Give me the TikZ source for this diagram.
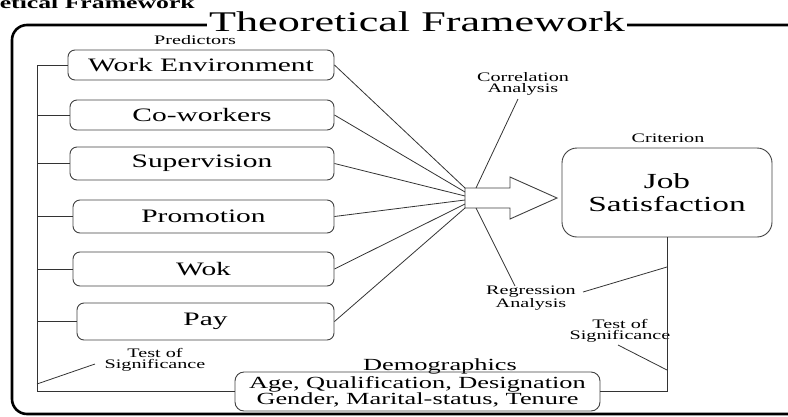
\documentclass[tikz,border=0pt]{standalone}
\usepackage{fontspec}
\setmainfont{Liberation Serif}[FakeStretch=1.55]
\usetikzlibrary{calc}
\newcommand\fsz[2]{\fontsize{#1}{#2}\selectfont}
\colorlet{linec}{black!80}
\colorlet{boxc}{black!75}
\tikzset{
  frame/.style={line width=2.6pt, rounded corners=15pt},
  pbox/.style={draw=boxc, line width=0.9pt, rounded corners=7pt, inner sep=0pt, font=\fsz{19}{22}},
  jbox/.style={draw=boxc, line width=0.9pt, rounded corners=15pt, inner sep=0pt, align=center, font=\fsz{21.5}{23}},
  dbox/.style={draw=boxc, line width=0.9pt, rounded corners=9pt, inner sep=0pt, align=center, font=\fsz{17}{16}},
  lab/.style={font=\fsz{13}{11.5}, align=center, inner sep=0pt},
  conn/.style={draw=linec, line width=0.8pt},
  arrowshape/.style={draw=boxc, line width=0.9pt, fill=white},
}
\begin{document}
\begin{tikzpicture}[x=1pt,y=-1pt]
\useasboundingbox (0,0) rectangle (788,416);
% outer frame
\draw[frame] (12,25) rectangle (805,414);
\node[fill=white, inner xsep=2pt, inner ysep=0pt, anchor=base, font=\fsz{28.5}{30}] (title) at (417,31) {Theoretical Framework};
\node[anchor=base east, inner sep=0pt, font=\fsz{16.6}{18}\bfseries] (head) at (195,8) {etical Framework};
% predictors
\node[lab] (pred) at (195,40) {Predictors};
\node[pbox, minimum width=266pt, minimum height=30pt] (we) at (201,65) {Work Environment};
\node[pbox, minimum width=264pt, minimum height=30pt] (cw) at (202,115) {Co-workers};
\node[pbox, minimum width=264pt, minimum height=33pt] (su) at (202,163.5) {Supervision};
\node[pbox, minimum width=261pt, minimum height=33pt] (pr) at (203.5,216.5) {Promotion};
\node[pbox, minimum width=261pt, minimum height=34pt] (wo) at (203.5,269) {Wok};
\node[pbox, minimum width=257pt, minimum height=37pt] (pa) at (205.5,321.5) {Pay};
% criterion
\node[lab] (crit) at (668,138) {Criterion};
\node[jbox, minimum width=210pt, minimum height=89pt] (job) at (667,192.5) {Job\\Satisfaction};
% demographics
\node[anchor=base, inner sep=0pt, font=\fsz{17}{18}] (demlab) at (440,370) {Demographics};
\node[dbox, minimum width=365pt, minimum height=39pt] (demo) at (417.5,391.5) {Age, Qualification, Designation\\Gender, Marital-status, Tenure};
% arrow
\draw[arrowshape] (465,188) -- (510,188) -- (510,177) -- (557,198) -- (510,219) -- (510,208) -- (465,208) -- cycle;
\coordinate (h1) at (465,188);
\coordinate (h2) at (465,192);
\coordinate (h3) at (465,196);
\coordinate (h4) at (465,200);
\coordinate (h5) at (465,204);
\coordinate (h6) at (465,208);
\coordinate (ctop) at (476,188);
\coordinate (cbot) at (476,208);
% labels of analyses
\node[lab] (corr) at (523,84) {Correlation\\Analysis};
\node[lab] (reg) at (531,298) {Regression\\Analysis};
\node[lab] (tsr) at (620,331) {Test of\\Significance};
\node[lab] (tsl) at (155,360) {Test of\\Significance};
\coordinate (corrEnd) at (518,99);
\coordinate (regEnd) at (515,286);
\coordinate (regEnd2) at (583,292);
\coordinate (tsrEnd) at (618,345);
\coordinate (tslEnd) at (95,364);
% left bus
\coordinate (busTop) at (37,65);
\coordinate (busBot) at (37,391.5);
\draw[conn] (busTop) -- (busBot);
\draw[conn] (we.west -| busTop) -- (we.west);
\draw[conn] (cw.west -| busTop) -- (cw.west);
\draw[conn] (su.west -| busTop) -- (su.west);
\draw[conn] (pr.west -| busTop) -- (pr.west);
\draw[conn] (wo.west -| busTop) -- (wo.west);
\draw[conn] (pa.west -| busTop) -- (pa.west);
\draw[conn] (busBot) -- (demo.west);
\coordinate (tslStart) at (37,384);
\draw[conn] (tslStart) -- (tslEnd);
% predictors to arrow
\draw[conn] (we.east) -- (h1);
\draw[conn] (cw.east) -- (h2);
\draw[conn] (su.east) -- (h3);
\draw[conn] (pr.east) -- (h4);
\draw[conn] (wo.east) -- (h5);
\draw[conn] (pa.east) -- (h6);
\draw[conn] (ctop) -- (corrEnd);
\draw[conn] (cbot) -- (regEnd);
% right side
\draw[conn] (demo.east) -| (job.south);
\coordinate (rj) at (job.south |- 0,267);
\coordinate (tj) at (job.south |- 0,370);
\draw[conn] (rj) -- (regEnd2);
\draw[conn] (tj) -- (tsrEnd);
\end{tikzpicture}
\end{document}
